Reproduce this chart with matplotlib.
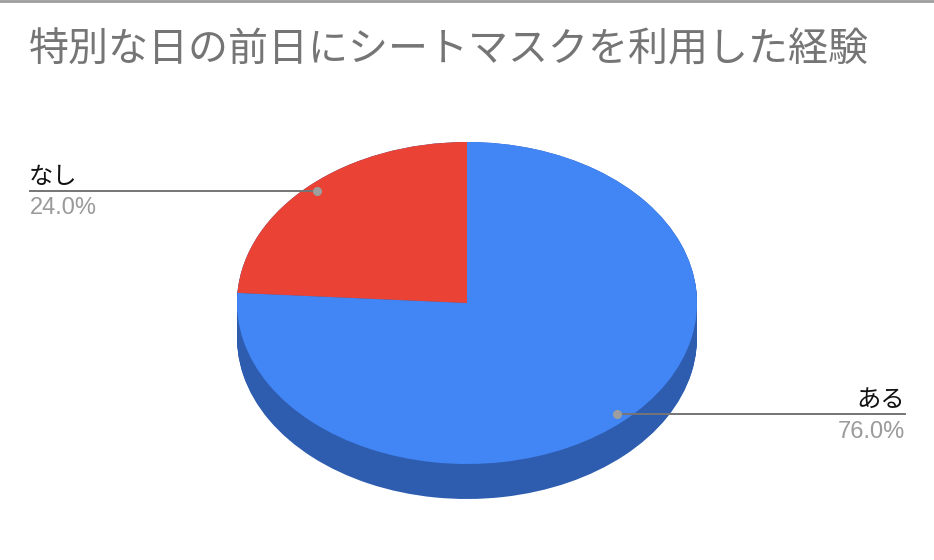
import matplotlib
matplotlib.use("Agg")
import matplotlib.pyplot as plt

plt.rcParams['font.family'] = ['Noto Sans CJK JP', 'DejaVu Sans']

W, H = 934, 560

title = "特別な日の前日にシートマスクを利用した経験"
labels = ["ある", "なし"]
values = [76.0, 24.0]
colors = ["#4285f4", "#ea4335"]
side_color = "#2e5db0"


def fx(px):
    return px / W


def fy(py):
    return 1 - py / H


fig = plt.figure(figsize=(W / 100, H / 100), dpi=100, facecolor="white")

# pie axes: the box is the ellipse of the top face
cx, cy, rx, ry = 467, 303, 230, 161
depth = 35 / ry
ax = fig.add_axes([fx(cx - rx), fy(cy + ry), 2 * rx / W, 2 * ry / H])

# side of the pie, stacked copies going down
for i in range(36):
    dy = -depth * i / 35
    side, _ = ax.pie(values, colors=[side_color, side_color], startangle=90,
                     counterclock=False, center=(0, dy), radius=1)
    for w in side:
        w.set_clip_on(False)
        w.set_zorder(1)

top, _ = ax.pie(values, colors=colors, startangle=90, counterclock=False,
                center=(0, 0), radius=1)
for w in top:
    w.set_clip_on(False)
    w.set_zorder(2)

ax.set_aspect('auto')
ax.set_xlim(-1, 1)
ax.set_ylim(-1, 1)

# overlay in pixels for title, leaders and labels
ov = fig.add_axes([0, 0, 1, 1], facecolor="none")
ov.set_xlim(0, W)
ov.set_ylim(H, 0)
ov.axis("off")

ov.plot([0, W], [0.8, 0.8], color="#9e9e9e", lw=2)
ov.text(29, 50, title, fontsize=28.8, color="#757575", va="center", ha="left")

# なし
ov.plot([30, 317], [191, 191], color="#757575", lw=1.4)
ov.plot([317], [191], "o", color="#9e9e9e", ms=5.5)
ov.text(29, 177, labels[1], fontsize=17.5, color="#111111", va="center", ha="left")
ov.text(30, 208, f"{values[1]:.1f}%", fontsize=17, color="#9a9a9a", va="center",
        ha="left", family=['Liberation Sans'])

# ある
ov.plot([617, 905], [414, 414], color="#757575", lw=1.4)
ov.plot([617], [414], "o", color="#9e9e9e", ms=5.5)
ov.text(905, 400, labels[0], fontsize=17.5, color="#111111", va="center", ha="right")
ov.text(905, 432, f"{values[0]:.1f}%", fontsize=17, color="#9a9a9a", va="center",
        ha="right", family=['Liberation Sans'])

fig.savefig("out.png", dpi=100, facecolor="white")
